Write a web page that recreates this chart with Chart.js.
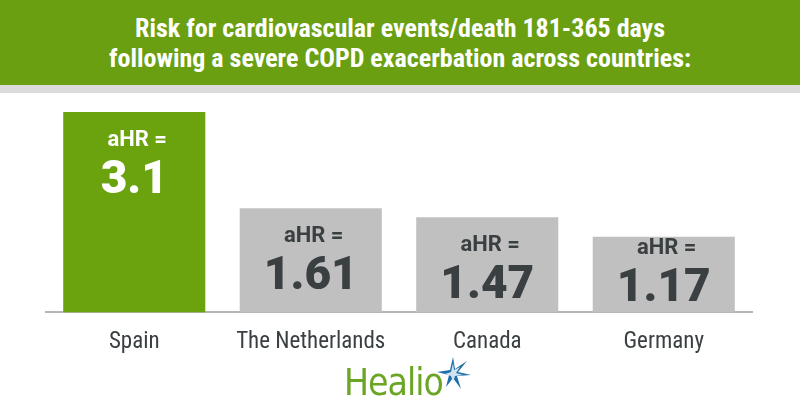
<!DOCTYPE html>
<html>
<head>
<meta charset="utf-8">
<script src="https://cdn.jsdelivr.net/npm/chart.js@4.4.1/dist/chart.umd.min.js"></script>
<style>
  html, body { margin: 0; padding: 0; background: #fff; }
  #wrap { position: relative; width: 800px; height: 420px; overflow: hidden; }
  #head {
    position: absolute; left: 0; top: 0; width: 800px; height: 85px;
    background: #6a9f12; color: #fff; text-align: center;
    font-family: "Roboto Condensed", "Liberation Sans Narrow", "DejaVu Sans Condensed", sans-serif;
    font-weight: bold; font-size: 26px; line-height: 30px; padding-top: 13px; box-sizing: border-box;
  }
  #strip { position: absolute; left: 0; top: 85px; width: 800px; height: 8px; background: #dcdcdc; }
  #chartBox { position: absolute; left: 0; top: 0; width: 800px; height: 420px; }
  #logo {
    position: absolute; left: 344px; top: 361px; width: 140px; height: 50px;
    font-family: "Liberation Sans Narrow", "DejaVu Sans Condensed", sans-serif;
    font-size: 37px; color: #6aa524; letter-spacing: -1px;
  }
  #logo svg { position: absolute; left: 89px; top: -6px; }
</style>
</head>
<body>
<div id="wrap">
  <div id="chartBox"><canvas id="c" width="800" height="420"></canvas></div>
  <div id="head">Risk for cardiovascular events/death 181-365 days<br>following a severe COPD exacerbation across countries:</div>
  <div id="strip"></div>
  <div id="logo">Healio
    <svg width="40" height="36" viewBox="0 0 40 36">
      <polygon points="20,2 22,14 34,6 25,17 38,20 24,21 28,34 20,23 13,32 16,20 4,17 17,15" fill="#1f6fa8"/>
      <polygon points="20,8 21,15 27,12 23,18 30,20 22,21 20,27 18,21 12,19 18,17" fill="#cfe3f2"/>
    </svg>
  </div>
</div>
<script>
const countries = ['Spain', 'The Netherlands', 'Canada', 'Germany'];
const aHR = [3.1, 1.61, 1.47, 1.17];
const valueText = ['3.1', '1.61', '1.47', '1.17'];

const barColors = ['#6ba30f', '#c0c0c0', '#c0c0c0', '#c0c0c0'];
const labelColors = ['#ffffff', '#3a3f42', '#3a3f42', '#3a3f42'];

// texte dans les barres
const insideLabels = {
  id: 'insideLabels',
  afterDatasetsDraw(chart) {
    const ctx = chart.ctx;
    const meta = chart.getDatasetMeta(0);
    ctx.save();
    ctx.textAlign = 'center';
    ctx.textBaseline = 'middle';
    meta.data.forEach((bar, i) => {
      const numY = Math.min(bar.y + 67, bar.base - 25);
      ctx.fillStyle = labelColors[i];
      ctx.font = 'bold 22px Roboto, "Liberation Sans", sans-serif';
      ctx.fillText('aHR =', bar.x + 3, numY - 39);
      ctx.font = '900 46px Roboto, "Liberation Sans", sans-serif';
      ctx.fillText(valueText[i], bar.x, numY + 2);
    });
    ctx.restore();
  }
};

new Chart(document.getElementById('c'), {
  type: 'bar',
  data: {
    labels: countries,
    datasets: [{
      data: aHR,
      backgroundColor: barColors,
      borderWidth: 0,
      barPercentage: 0.805,
      categoryPercentage: 1
    }]
  },
  options: {
    responsive: false,
    animation: false,
    layout: { padding: { left: 46, right: 48, top: 112, bottom: 56 } },
    plugins: { legend: { display: false }, tooltip: { enabled: false } },
    scales: {
      x: {
        grid: { display: false },
        border: { display: true, color: '#b5b5b5', width: 2 },
        ticks: {
          color: '#3a3f42',
          padding: 8,
          font: { family: '"Roboto Condensed", "Liberation Sans Narrow", "DejaVu Sans Condensed", sans-serif', size: 23 }
        }
      },
      y: { display: false, min: 0, max: 3.1 }
    }
  },
  plugins: [insideLabels]
});
</script>
</body>
</html>
